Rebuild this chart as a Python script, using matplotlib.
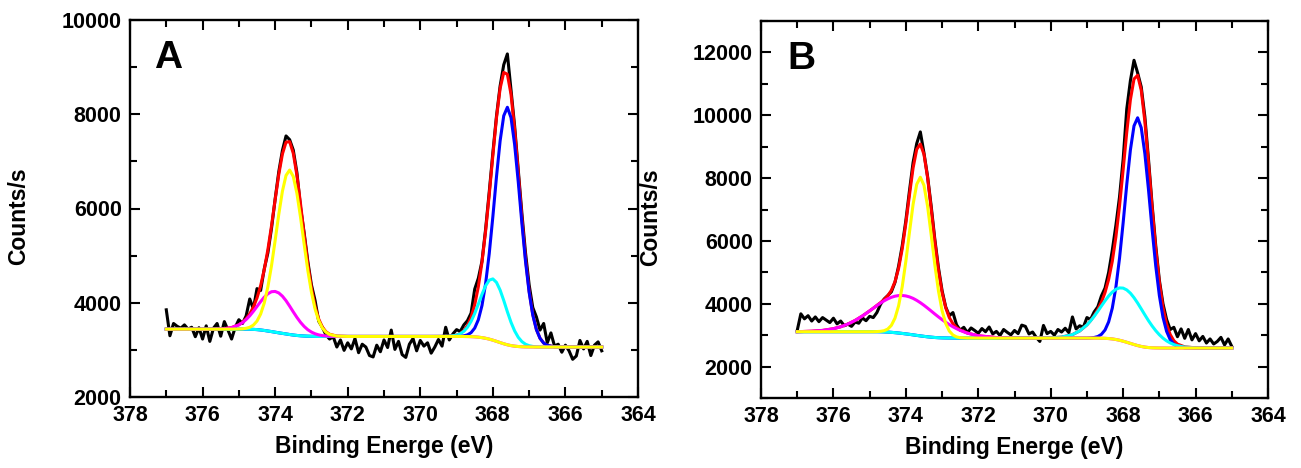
import numpy as np
import matplotlib
matplotlib.use('Agg')
import matplotlib.pyplot as plt
from matplotlib.ticker import MultipleLocator

plt.rcParams['font.family'] = ['Liberation Sans', 'DejaVu Sans']
plt.rcParams['font.weight'] = 'bold'

# measured spectra, 0.1 eV steps from 377.0 down to 365.0 eV
energy = np.linspace(377.0, 365.0, 121)

counts_a = [3850, 3300, 3560, 3500, 3460, 3530, 3440, 3480, 3280, 3470,
            3230, 3510, 3180, 3460, 3560, 3290, 3600, 3420, 3230, 3480,
            3640, 3560, 3720, 4080, 3870, 4300, 4260, 4720, 5060, 5580,
            6200, 6780, 7230, 7540, 7460, 7240, 6760, 6020, 5480, 4880,
            4380, 4050, 3610, 3480, 3320, 3230, 3280, 3060, 3210, 2990,
            3150, 3020, 3240, 2940, 3120, 3060, 2880, 2850, 3100, 2960,
            3210, 3050, 3420, 3010, 3180, 2900, 2840, 3120, 3240, 2980,
            3200, 3080, 3150, 2930, 3060, 3220, 3080, 3480, 3210, 3340,
            3430, 3390, 3530, 3620, 3780, 4290, 4520, 4880, 5560, 6350,
            7180, 7960, 8600, 9050, 9280, 8520, 7750, 6820, 5900, 5060,
            4380, 3900, 3700, 3420, 3560, 3150, 3360, 3080, 3120, 2950,
            3100, 2980, 2800, 2870, 3200, 3020, 3180, 2880, 3100, 3170,
            2980]

counts_b = [3150, 3680, 3520, 3620, 3450, 3580, 3430, 3560, 3480, 3400,
            3540, 3360, 3450, 3300, 3350, 3280, 3420, 3380, 3550, 3460,
            3600, 3560, 3720, 3980, 4150, 4260, 4380, 4680, 5200, 5850,
            6650, 7600, 8500, 9100, 9470, 8800, 8050, 7100, 6050, 5150,
            4420, 3900, 3620, 3720, 3330, 3160, 3250, 3080, 3230, 3150,
            3060, 3210, 3110, 3260, 3040, 3120, 2990, 3180, 3090, 3010,
            3150, 3050, 3320, 3280, 3040, 3100, 2930, 2800, 3310, 3050,
            3120, 3000, 3180, 3100, 3220, 3080, 3580, 3200, 3300, 3250,
            3560, 3500, 3740, 3900, 4250, 4500, 5000, 5700, 6500, 7400,
            8600, 10200, 11100, 11750, 11350, 10900, 9950, 8600, 7150, 5850,
            4750, 4000, 3500, 3180, 3250, 2950, 3200, 2900, 3180, 2850,
            3050, 2820, 2960, 2750, 2880, 2720, 2800, 2930, 2690, 2880,
            2640]

# fitted curves: background plus each peak's height above it
x_fit = [377.0, 376.6, 376.3, 376.0, 375.8, 375.6, 375.4, 375.2, 375.0,
         374.9, 374.8, 374.7, 374.6, 374.5, 374.4, 374.3, 374.2, 374.1, 374.0,
         373.9, 373.8, 373.7, 373.6, 373.5, 373.4, 373.3, 373.2, 373.1, 373.0,
         372.9, 372.8, 372.7, 372.6, 372.5, 372.3, 372.0, 371.5, 371.0, 370.5,
         370.0, 369.7, 369.4, 369.2, 369.0, 368.9, 368.8, 368.7, 368.6, 368.5,
         368.4, 368.3, 368.2, 368.1, 368.0, 367.9, 367.8, 367.7, 367.6, 367.5,
         367.4, 367.3, 367.2, 367.1, 367.0, 366.9, 366.8, 366.7, 366.6, 366.5,
         366.3, 366.0, 365.5, 365.0]

bg_a = [3440, 3440, 3440, 3440, 3440, 3440, 3440, 3440, 3440,
        3440, 3440, 3438, 3435, 3430, 3422, 3412, 3400, 3388, 3375,
        3362, 3350, 3338, 3326, 3315, 3306, 3299, 3294, 3290, 3288,
        3286, 3285, 3285, 3285, 3285, 3285, 3285, 3285, 3285, 3285,
        3285, 3285, 3285, 3285, 3285, 3285, 3284, 3283, 3281, 3277,
        3270, 3260, 3246, 3228, 3206, 3181, 3155, 3130, 3108, 3091,
        3079, 3071, 3066, 3063, 3062, 3061, 3060, 3060, 3060, 3060,
        3060, 3060, 3060, 3060]
yellow_a = [0, 0, 0, 0, 0, 0, 0, 0, 3,
            7, 18, 42, 90, 181, 337, 583, 939, 1399, 1947,
            2513, 3015, 3364, 3490, 3364, 3015, 2513, 1947, 1399, 939,
            583, 337, 181, 90, 42, 7, 0, 0, 0, 0,
            0, 0, 0, 0, 0, 0, 0, 0, 0, 0,
            0, 0, 0, 0, 0, 0, 0, 0, 0, 0,
            0, 0, 0, 0, 0, 0, 0, 0, 0, 0,
            0, 0, 0, 0]
magenta_a = [0, 0, 0, 0, 0, 3, 10, 33, 90,
             138, 203, 285, 383, 491, 602, 706, 790, 846, 865,
             846, 790, 706, 602, 491, 383, 285, 203, 138, 90,
             56, 33, 19, 10, 5, 1, 0, 0, 0, 0,
             0, 0, 0, 0, 0, 0, 0, 0, 0, 0,
             0, 0, 0, 0, 0, 0, 0, 0, 0, 0,
             0, 0, 0, 0, 0, 0, 0, 0, 0, 0,
             0, 0, 0, 0]
blue_a = [0, 0, 0, 0, 0, 0, 0, 0, 0,
          0, 0, 0, 0, 0, 0, 0, 0, 0, 0,
          0, 0, 0, 0, 0, 0, 0, 0, 0, 0,
          0, 0, 0, 0, 0, 0, 0, 0, 0, 0,
          0, 0, 0, 0, 0, 5, 14, 36, 85, 185,
          370, 680, 1159, 1814, 2621, 3493, 4279, 4838, 5040, 4838,
          4279, 3493, 2621, 1814, 1159, 680, 370, 185, 85, 36,
          5, 0, 0, 0]
cyan_a = [0, 0, 0, 0, 0, 0, 0, 0, 0,
          0, 0, 0, 0, 0, 0, 0, 0, 0, 0,
          0, 0, 0, 0, 0, 0, 0, 0, 0, 0,
          0, 0, 0, 0, 0, 0, 0, 0, 0, 0,
          0, 0, 1, 5, 27, 57, 110, 196, 324, 495,
          701, 919, 1114, 1251, 1300, 1251, 1114, 919, 701, 495,
          324, 196, 110, 57, 27, 12, 5, 2, 0, 0,
          0, 0, 0, 0]

bg_b = [3110, 3110, 3110, 3110, 3110, 3110, 3110, 3110, 3110,
        3110, 3110, 3108, 3104, 3098, 3090, 3080, 3068, 3055, 3041,
        3026, 3010, 2993, 2977, 2962, 2948, 2936, 2926, 2919, 2914,
        2911, 2909, 2908, 2907, 2907, 2907, 2907, 2907, 2907, 2907,
        2907, 2907, 2907, 2907, 2907, 2907, 2906, 2905, 2903, 2899,
        2892, 2880, 2862, 2838, 2808, 2774, 2738, 2702, 2669, 2641,
        2620, 2606, 2598, 2594, 2592, 2591, 2590, 2590, 2590, 2590,
        2590, 2590, 2590, 2590]
yellow_b = [0, 0, 0, 0, 0, 0, 0, 0, 0,
            0, 5, 14, 38, 97, 222, 462, 869, 1490, 2313,
            3252, 4156, 4808, 5050, 4808, 4156, 3252, 2313, 1490, 869,
            462, 222, 97, 38, 14, 2, 0, 0, 0, 0,
            0, 0, 0, 0, 0, 0, 0, 0, 0, 0,
            0, 0, 0, 0, 0, 0, 0, 0, 0, 0,
            0, 0, 0, 0, 0, 0, 0, 0, 0, 0,
            0, 0, 0, 0]
magenta_b = [0, 16, 41, 96, 157, 244, 359, 501, 663,
             747, 832, 913, 989, 1057, 1115, 1161, 1192, 1208, 1208,
             1192, 1161, 1115, 1057, 989, 913, 832, 747, 663, 580,
             501, 427, 359, 298, 244, 157, 74, 16, 2, 0,
             0, 0, 0, 0, 0, 0, 0, 0, 0, 0,
             0, 0, 0, 0, 0, 0, 0, 0, 0, 0,
             0, 0, 0, 0, 0, 0, 0, 0, 0, 0,
             0, 0, 0, 0]
blue_b = [0, 0, 0, 0, 0, 0, 0, 0, 0,
          0, 0, 0, 0, 0, 0, 0, 0, 0, 0,
          0, 0, 0, 0, 0, 0, 0, 0, 0, 0,
          0, 0, 0, 0, 0, 0, 0, 0, 0, 0,
          0, 0, 0, 0, 0, 7, 20, 52, 123, 266,
          532, 979, 1668, 2610, 3770, 5024, 6155, 6960, 7250, 6960,
          6155, 5024, 3770, 2610, 1668, 979, 532, 266, 123, 52,
          7, 0, 0, 0]
cyan_b = [0, 0, 0, 0, 0, 0, 0, 0, 0,
          0, 0, 0, 0, 0, 0, 0, 0, 0, 0,
          0, 0, 0, 0, 0, 0, 0, 0, 0, 0,
          0, 0, 0, 0, 0, 0, 0, 0, 0, 0,
          7, 31, 111, 228, 421, 549, 695, 855, 1026, 1195,
          1354, 1491, 1599, 1666, 1690, 1666, 1599, 1491, 1354, 1195,
          1026, 855, 695, 549, 421, 314, 228, 162, 111, 74,
          31, 7, 0, 0]


def draw_panel(ax, counts, bg, yellow, magenta, blue, cyan, ylim, letter, letter_x):
    bg = np.array(bg, dtype=float)
    yellow, magenta = np.array(yellow), np.array(magenta)
    blue, cyan = np.array(blue), np.array(cyan)
    envelope = bg + yellow + magenta + blue + cyan

    lw = 2.2
    ax.plot(energy, counts, color='black', lw=lw)
    ax.plot(x_fit, envelope, color='#ff0000', lw=lw)
    ax.plot(x_fit, bg + blue, color='#0000ff', lw=lw)
    ax.plot(x_fit, bg + cyan, color='#00ffff', lw=lw)
    ax.plot(x_fit, bg + magenta, color='#ff00ff', lw=lw)
    ax.plot(x_fit, bg + yellow, color='#ffff00', lw=lw)

    ax.set_xlim(378, 364)
    ax.set_ylim(*ylim)
    ax.xaxis.set_major_locator(MultipleLocator(2))
    ax.xaxis.set_minor_locator(MultipleLocator(1))
    ax.yaxis.set_major_locator(MultipleLocator(2000))
    ax.yaxis.set_minor_locator(MultipleLocator(1000))
    ax.tick_params(which='both', direction='in', top=True, right=True,
                   width=1.5, labelsize=15.5, pad=6)
    ax.tick_params(which='major', length=7)
    ax.tick_params(which='minor', length=5)
    for s in ax.spines.values():
        s.set_linewidth(1.7)

    ax.set_xlabel('Binding Energe (eV)', fontsize=16.5, fontweight='bold')
    ax.set_ylabel('Counts/s', fontsize=16.5, fontweight='bold')
    ax.xaxis.set_label_coords(0.5, -0.1)
    ax.yaxis.set_label_coords(-0.196, 0.48)
    ax.text(letter_x, 0.872, letter, transform=ax.transAxes, fontsize=28,
            fontweight='bold', ha='left', va='baseline')


fig = plt.figure(figsize=(13.01, 4.68), dpi=100)
ax_a = fig.add_axes([130 / 1301, 71 / 468, 508 / 1301, 377 / 468])
ax_b = fig.add_axes([761 / 1301, 70 / 468, 507 / 1301, 377 / 468])

draw_panel(ax_a, counts_a, bg_a, yellow_a, magenta_a, blue_a, cyan_a,
           (2000, 10000), 'A', 0.047)
draw_panel(ax_b, counts_b, bg_b, yellow_b, magenta_b, blue_b, cyan_b,
           (1000, 13000), 'B', 0.053)

fig.savefig('out.png', dpi=100)
